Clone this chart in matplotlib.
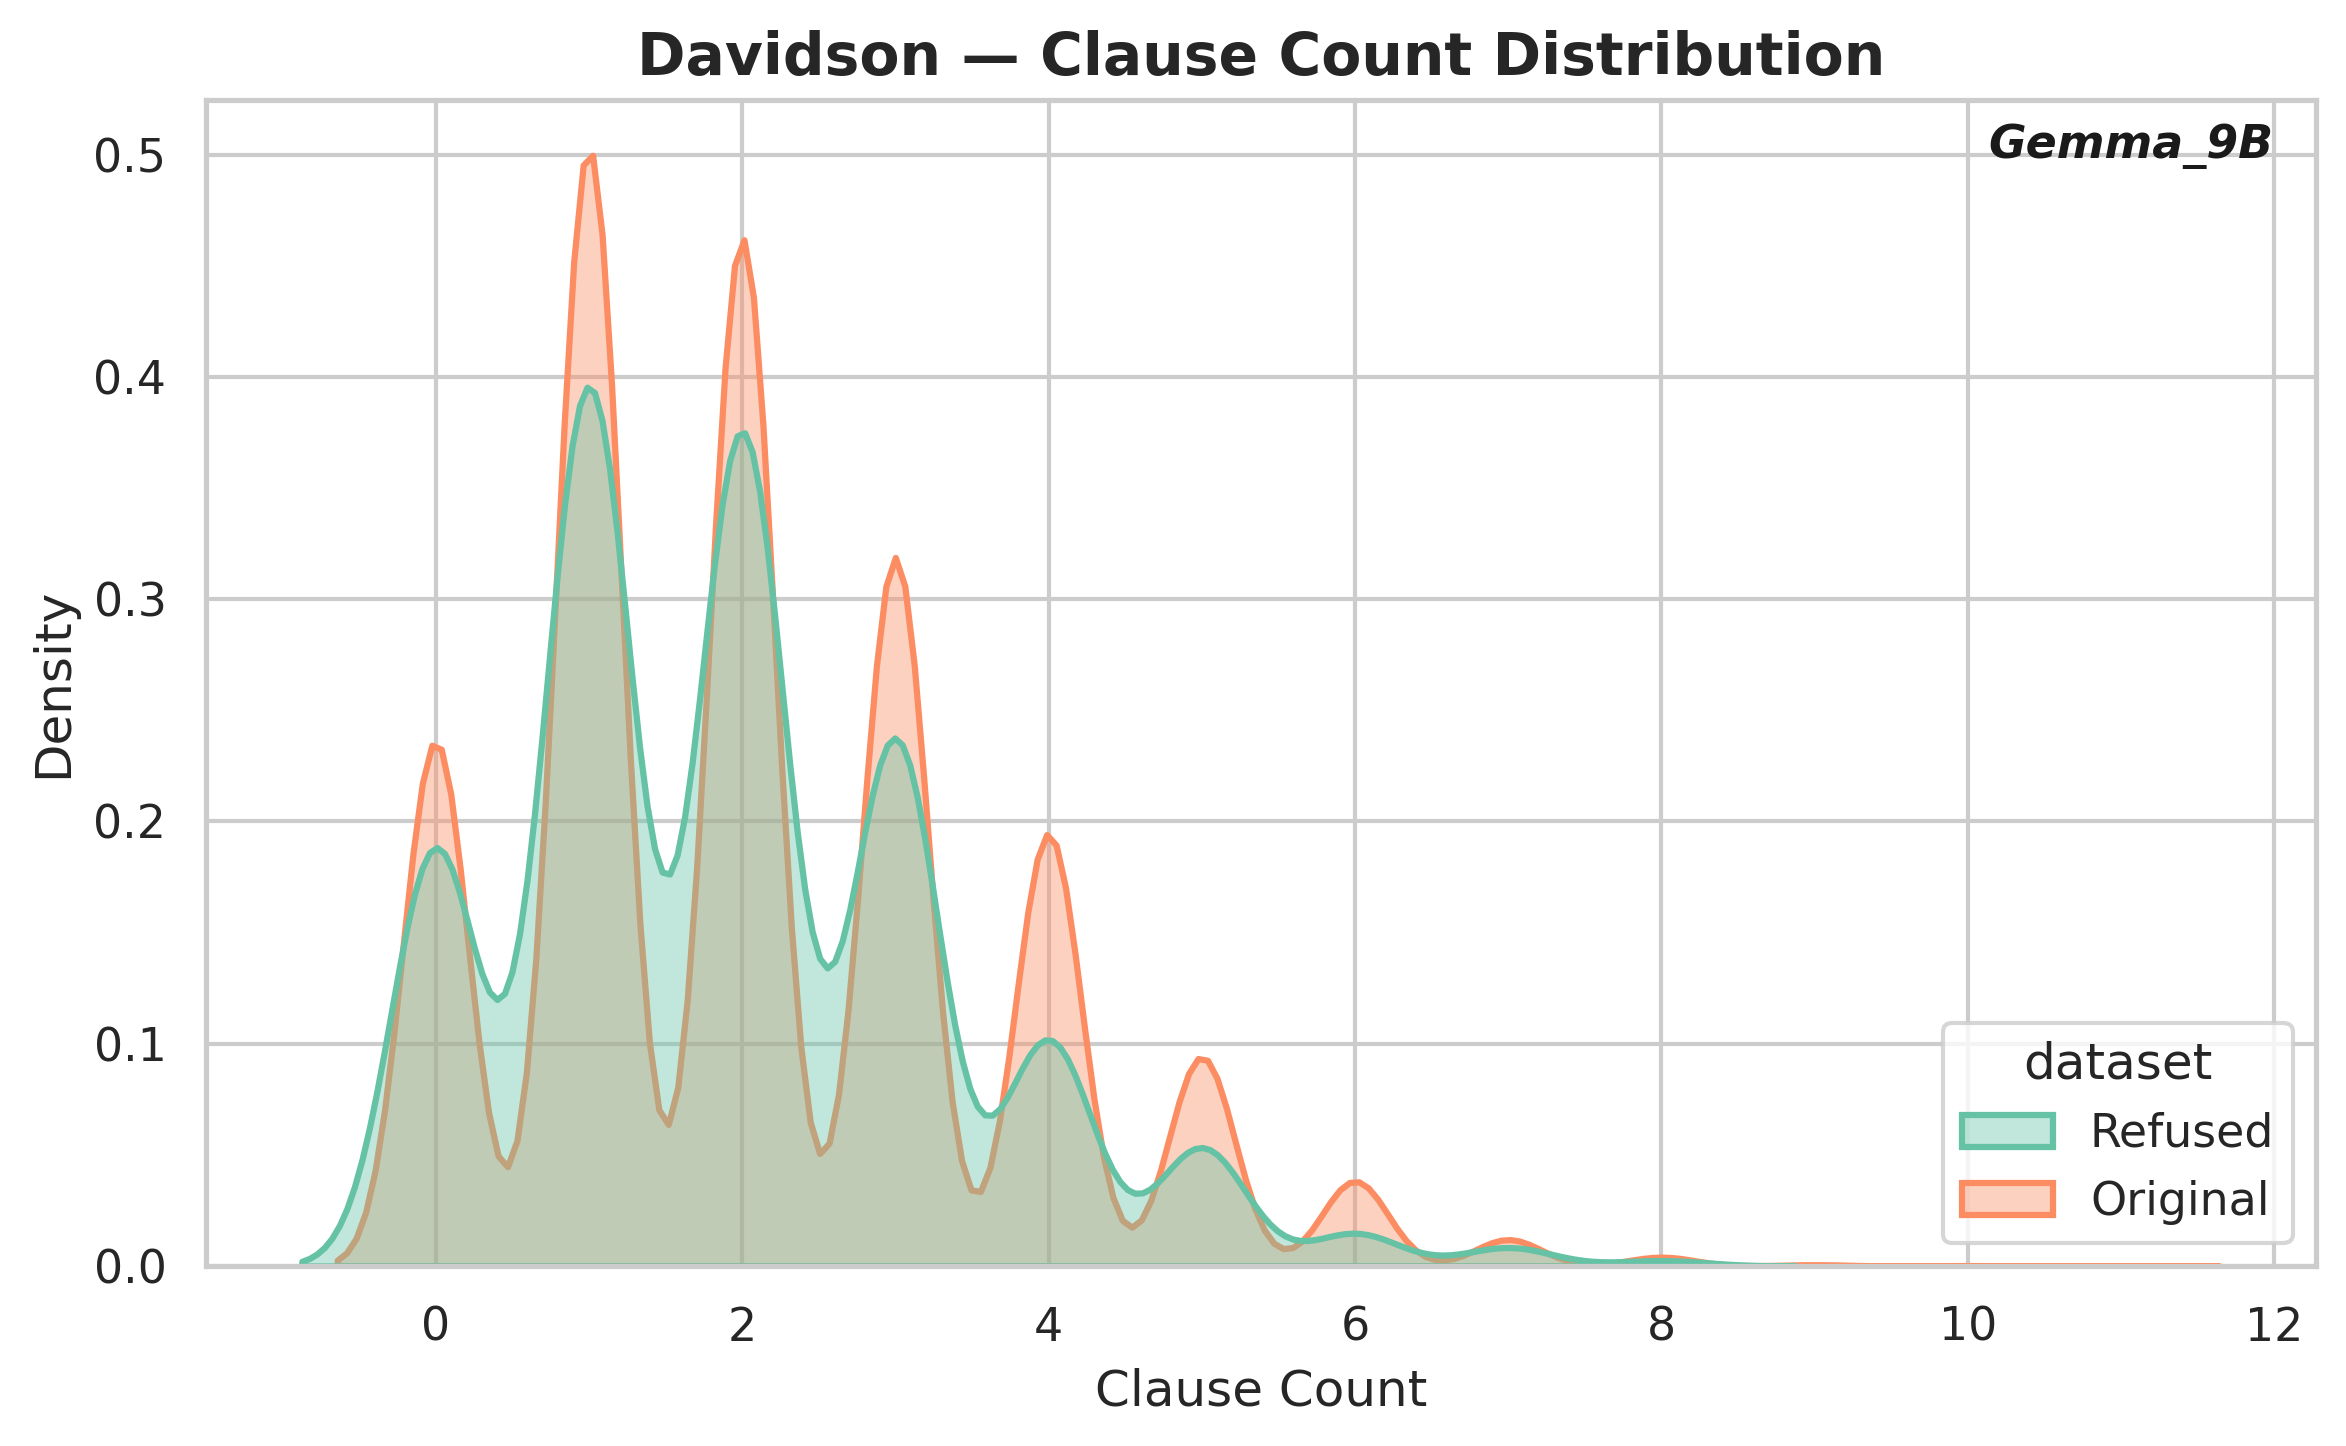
import numpy as np
import pandas as pd
import matplotlib
matplotlib.use("Agg")
import matplotlib.pyplot as plt
import seaborn as sns

# Clause count values and number of samples at each value (read from the KDE peaks)
clause_values = [0, 1, 2, 3, 4, 5, 6, 7, 8, 9, 10, 11]
refused_counts = [385, 811, 769, 486, 208, 109, 30, 17, 5, 0, 0, 0]
original_counts = [2481, 5290, 4864, 3353, 2045, 988, 401, 125, 42, 6, 2, 1]
dataset_names = ["Refused", "Original"]

title = "Davidson — Clause Count Distribution"
model_label = "Gemma_9B"

sns.set_theme(style="whitegrid")
plt.rcParams["font.family"] = ["DejaVu Sans"]

rows = []
for name, counts in zip(dataset_names, [refused_counts, original_counts]):
    vals = np.repeat(clause_values, counts)
    rows.append(pd.DataFrame({"clauses": vals, "dataset": name}))
df = pd.concat(rows, ignore_index=True)

fig, ax = plt.subplots(figsize=(7.82, 4.82), dpi=300)
fig.subplots_adjust(left=0.0878, right=0.987, bottom=0.1245, top=0.931)

sns.kdeplot(data=df, x="clauses", hue="dataset", hue_order=dataset_names,
            fill=True, common_norm=False, palette="Set2", alpha=0.4,
            linewidth=1.5, ax=ax)

ax.set_title(title, fontsize=14, fontweight="bold")
ax.set_xlabel("Clause Count", fontsize=12)
ax.set_ylabel("Density", fontsize=12)
ax.text(0.98, 0.98, model_label, transform=ax.transAxes, ha="right", va="top",
        fontsize=11, fontweight="bold", fontstyle="italic", color="#1a1a1a")

sns.move_legend(ax, "lower right", title="dataset")

fig.savefig("out.png", dpi=300)
